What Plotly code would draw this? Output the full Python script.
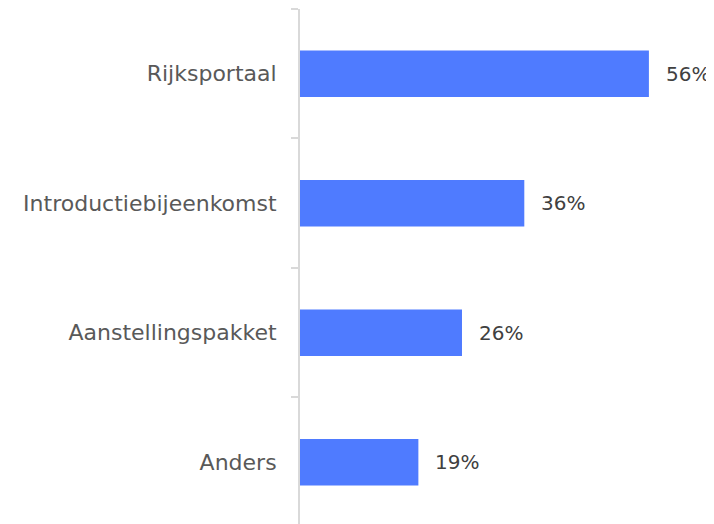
import plotly.graph_objects as go

categories = ["Rijksportaal", "Introductiebijeenkomst", "Aanstellingspakket", "Anders"]
values = [56, 36, 26, 19]
value_labels = ["56%", "36%", "26%", "19%"]

bar_color = "#4F7BFF"
font_family = "DejaVu Sans"

fig = go.Figure()
fig.add_trace(go.Bar(
    x=values, y=categories, orientation="h",
    marker=dict(color=bar_color, line=dict(width=0)),
    width=0.36, hoverinfo="skip",
))
for c, v, t in zip(categories, values, value_labels):
    fig.add_annotation(x=v, y=c, text=t, showarrow=False, xanchor="left",
                       xshift=15, font=dict(family=font_family, size=20, color="#404040"))

fig.update_layout(
    width=714, height=524,
    margin=dict(l=292, r=22, t=1, b=0, autoexpand=False),
    paper_bgcolor="white", plot_bgcolor="white",
    showlegend=False,
    xaxis=dict(range=[0, 64.2], visible=False, fixedrange=True),
    yaxis=dict(
        type="category", categoryorder="array", categoryarray=categories,
        range=[3.539, -0.5], autorange=False,
        showline=True, linecolor="#D9D9D9", linewidth=2,
        ticks="outside", tickson="boundaries", ticklen=7, tickcolor="#D9D9D9", tickwidth=2,
        showgrid=False, zeroline=False,
        tickfont=dict(family=font_family, size=22, color="#595959"),
        ticklabelstandoff=17,
    ),
)
fig.write_html("out.html")
